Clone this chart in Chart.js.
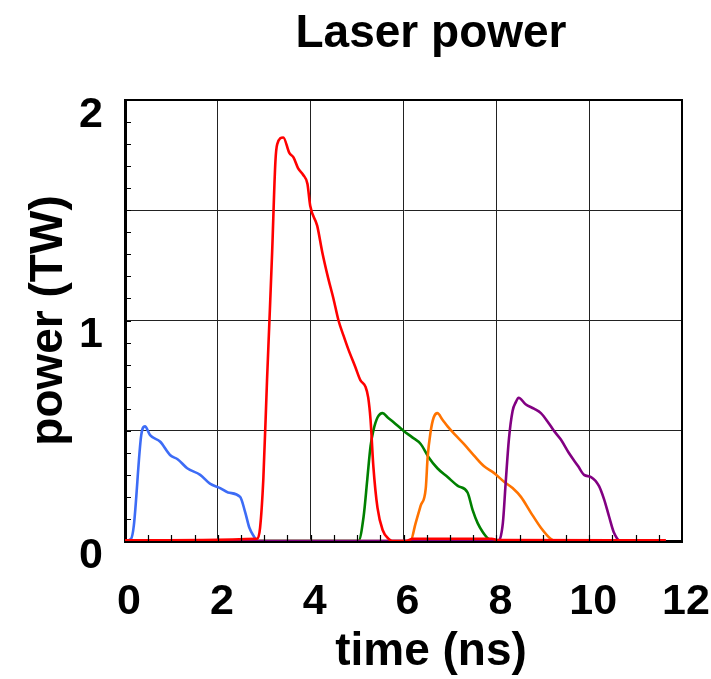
<!DOCTYPE html>
<html>
<head>
<meta charset="utf-8">
<title>Laser power</title>
<script src="https://cdn.jsdelivr.net/npm/chart.js@4/dist/chart.umd.min.js"></script>
<style>
  html, body { margin: 0; padding: 0; background: #fff; }
  #wrap { width: 711px; height: 679px; }
</style>
</head>
<body>
<div id="wrap"><canvas id="chart" width="711" height="679"></canvas></div>
<script>
// ===============================
// DATA (time in ns, power in TW)
// ===============================
const chartTitle = "Laser power";
const xTitle = "time (ns)";
const yTitle = "power (TW)";

const xTickValues = [0, 2, 4, 6, 8, 10, 12];
const yTickValues = [0, 1, 2];

const blueTime  = [0, 0.13, 0.19, 0.35, 0.43, 0.54, 0.76, 0.97, 1.14, 1.34, 1.62, 1.83, 2.05, 2.22, 2.48, 2.59, 2.68, 2.78, 2.85, 11.65];
const bluePower = [0, 0.01, 0.07, 0.48, 0.52, 0.48, 0.45, 0.39, 0.37, 0.33, 0.30, 0.26, 0.24, 0.22, 0.20, 0.13, 0.06, 0.02, 0.00, 0.00];

const redTime  = [0, 2.85, 2.91, 2.98, 3.06, 3.11, 3.17, 3.24, 3.28, 3.41, 3.54, 3.63, 3.73, 3.84, 3.93, 3.99, 4.14, 4.25, 4.38, 4.49, 4.60, 4.71, 4.81, 4.96, 5.07, 5.18, 5.24, 5.29, 5.35, 5.44, 5.55, 5.68, 5.76, 6.05, 6.2, 7.9, 8.05, 11.65];
const redPower = [0.003, 0.01, 0.06, 0.28, 0.73, 0.99, 1.31, 1.72, 1.80, 1.83, 1.76, 1.74, 1.69, 1.66, 1.62, 1.52, 1.43, 1.31, 1.19, 1.10, 1.00, 0.93, 0.87, 0.79, 0.73, 0.70, 0.65, 0.55, 0.34, 0.15, 0.05, 0.01, 0.00, 0.00, 0.01, 0.01, 0.004, 0.003];

const greenTime  = [0, 5.03, 5.14, 5.22, 5.29, 5.35, 5.44, 5.55, 5.66, 5.78, 6.00, 6.19, 6.37, 6.54, 6.73, 6.95, 7.17, 7.38, 7.49, 7.60, 7.71, 7.83, 7.99, 11.65];
const greenPower = [0, 0.00, 0.11, 0.28, 0.43, 0.50, 0.56, 0.58, 0.56, 0.54, 0.50, 0.47, 0.44, 0.38, 0.33, 0.29, 0.25, 0.22, 0.14, 0.08, 0.04, 0.01, 0.00, 0.00];

const orangeTime  = [0, 6.15, 6.26, 6.37, 6.48, 6.52, 6.58, 6.65, 6.73, 6.84, 6.95, 7.12, 7.30, 7.51, 7.73, 7.94, 8.16, 8.35, 8.53, 8.74, 8.96, 9.17, 9.28, 11.65];
const orangePower = [0, 0.00, 0.08, 0.16, 0.24, 0.38, 0.49, 0.56, 0.58, 0.55, 0.52, 0.48, 0.44, 0.39, 0.34, 0.31, 0.27, 0.24, 0.20, 0.13, 0.06, 0.01, 0.00, 0.00];

const purpleTime  = [0, 8.03, 8.14, 8.20, 8.27, 8.35, 8.42, 8.48, 8.63, 8.81, 8.96, 9.11, 9.24, 9.39, 9.56, 9.76, 9.89, 10.04, 10.21, 10.32, 10.43, 10.53, 10.68, 11.65];
const purplePower = [0, 0.00, 0.08, 0.26, 0.46, 0.59, 0.63, 0.65, 0.62, 0.60, 0.58, 0.54, 0.50, 0.46, 0.40, 0.34, 0.30, 0.29, 0.25, 0.19, 0.11, 0.04, 0.00, 0.00];

// ===============================
// HELPERS
// ===============================
const FONT = "'Liberation Sans', Arial, Helvetica, sans-serif";

function pairs(xs, ys) {
  return xs.map((x, i) => ({ x: x, y: ys[i] }));
}

function series(label, xs, ys, color, order) {
  return {
    label: label,
    data: pairs(xs, ys),
    borderColor: color,
    borderWidth: 2.6,
    pointRadius: 0,
    fill: false,
    order: order,
    cubicInterpolationMode: "monotone"
  };
}

// frame, inward minor ticks and the three titles
const decorPlugin = {
  id: "decor",
  afterDatasetsDraw(chart) {
    const ctx = chart.ctx;
    const a = chart.chartArea;
    const xs = chart.scales.x;
    const ys = chart.scales.y;

    ctx.save();
    ctx.strokeStyle = "#000";

    // minor ticks
    ctx.lineWidth = 1.2;
    ctx.beginPath();
    for (let v = 0.5; v < 12; v += 0.5) {
      const px = Math.round(xs.getPixelForValue(v)) + 0.5;
      ctx.moveTo(px, a.bottom);
      ctx.lineTo(px, a.bottom - 6);
    }
    for (let v = 0.1; v < 2; v += 0.1) {
      const py = Math.round(ys.getPixelForValue(v)) + 0.5;
      ctx.moveTo(a.left, py);
      ctx.lineTo(a.left + 6, py);
    }
    ctx.stroke();

    // top + right frame
    ctx.lineWidth = 2;
    ctx.beginPath();
    ctx.moveTo(a.left, a.top);
    ctx.lineTo(a.right, a.top);
    ctx.lineTo(a.right, a.bottom);
    ctx.stroke();

    // titles
    ctx.fillStyle = "#000";
    ctx.font = "bold 46px " + FONT;
    ctx.textAlign = "center";
    ctx.textBaseline = "alphabetic";
    ctx.fillText(chartTitle, 431, 47);
    ctx.fillText(xTitle, 431, 665);

    ctx.translate(62, (a.top + a.bottom) / 2);
    ctx.rotate(-Math.PI / 2);
    ctx.fillText(yTitle, 0, 0);
    ctx.restore();
  }
};

// ===============================
// CHART
// ===============================
const ctx = document.getElementById("chart").getContext("2d");

new Chart(ctx, {
  type: "line",
  data: {
    datasets: [
      series("shot 1", blueTime, bluePower, "#3d6cf6", 4),
      series("shot 2", redTime, redPower, "#ff0000", 0),
      series("shot 3", greenTime, greenPower, "#008000", 3),
      series("shot 4", orangeTime, orangePower, "#ff7300", 2),
      series("shot 5", purpleTime, purplePower, "#820082", 1)
    ]
  },
  options: {
    responsive: false,
    animation: false,
    layout: { padding: { top: 100, right: 29, left: 0, bottom: 0 } },
    plugins: {
      legend: { display: false },
      tooltip: { enabled: false },
      title: { display: false }
    },
    scales: {
      x: {
        type: "linear",
        min: 0,
        max: 12,
        afterFit(scale) {
          scale.height = 138;
          scale.paddingLeft = 0;
          scale.paddingRight = 0;
        },
        afterBuildTicks(scale) { scale.ticks = xTickValues.map(v => ({ value: v })); },
        border: { display: true, color: "#000", width: 3 },
        grid: { color: "#222", lineWidth: 1, drawTicks: false },
        ticks: {
          padding: 35,
          labelOffset: 4,
          color: "#000",
          font: { family: FONT, size: 43, weight: "bold" },
          autoSkip: false,
          maxRotation: 0
        }
      },
      y: {
        type: "linear",
        min: 0,
        max: 2,
        afterFit(scale) {
          scale.width = 125;
          scale.paddingTop = 0;
          scale.paddingBottom = 0;
        },
        afterBuildTicks(scale) {
          const t = [];
          for (let v = 0; v <= 2.0001; v += 0.5) t.push({ value: Math.round(v * 10) / 10 });
          scale.ticks = t;
        },
        border: { display: true, color: "#000", width: 3 },
        grid: { color: "#222", lineWidth: 1, drawTicks: false },
        ticks: {
          padding: 22,
          labelOffset: 15,
          color: "#000",
          font: { family: FONT, size: 43, weight: "bold" },
          autoSkip: false,
          callback: v => (yTickValues.includes(v) ? String(v) : "")
        }
      }
    }
  },
  plugins: [decorPlugin]
});
</script>
</body>
</html>
